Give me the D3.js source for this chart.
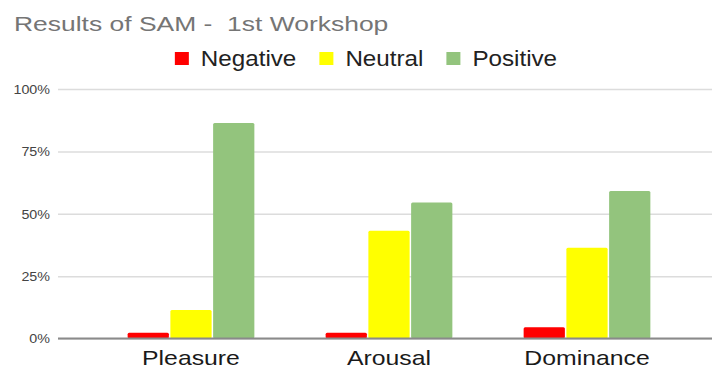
<!DOCTYPE html>
<html>
<head>
<meta charset="utf-8">
<script src="https://cdn.jsdelivr.net/npm/d3@7"></script>
<style>
  html, body { margin: 0; padding: 0; background: #fff; }
  svg { display: block; font-family: "Liberation Sans", Arial, sans-serif; }
  text { white-space: pre; }
</style>
</head>
<body>
<svg id="chart" width="712" height="369"></svg>
<script>
// SAM ratings, share of participants per category (percent)
const categories = ["Pleasure", "Arousal", "Dominance"];
const seriesNames = ["Negative", "Neutral", "Positive"];
const negative = [2.3, 2.3, 4.5];
const neutral = [11.4, 43.2, 36.4];
const positive = [86.4, 54.5, 59.1];
const yTicks = [0, 25, 50, 75, 100];
const titleText = "Results of SAM -  1st Workshop";

const colors = { Negative: "#ff0000", Neutral: "#ffff00", Positive: "#93c47d" };
const seriesValues = { Negative: negative, Neutral: neutral, Positive: positive };

const rows = categories.map((c, i) => ({
  category: c,
  values: seriesNames.map(s => ({ series: s, value: seriesValues[s][i] }))
}));

const svg = d3.select("#chart");
const gridLeft = 58, gridRight = 712;

const y = d3.scaleLinear().domain([0, 100]).range([338.5, 89]);
const x0 = d3.scaleBand().domain(categories).range([92, 686])
  .paddingInner(0.36).paddingOuter(0.18);
const x1 = d3.scaleBand().domain(seriesNames).range([0, x0.bandwidth()])
  .paddingInner(0.035).paddingOuter(0);

// horizontally stretched text helper
function stretchText(sel, sx) {
  sel.attr("transform", function () {
    const tx = +this.getAttribute("data-x"), ty = +this.getAttribute("data-y");
    return `translate(${tx},${ty}) scale(${sx},1)`;
  });
}

// title
svg.append("text")
  .attr("data-x", 14).attr("data-y", 31)
  .attr("font-size", 21).attr("fill", "#757575")
  .text(titleText)
  .call(stretchText, 1.26);

// gridlines + y labels
const yAxis = d3.axisLeft(y).tickValues(yTicks).tickFormat(d => d + "%")
  .tickSize(-(gridRight - gridLeft)).tickPadding(8);
const yg = svg.append("g").attr("transform", `translate(${gridLeft},0)`).call(yAxis);
yg.select(".domain").remove();
yg.selectAll(".tick line").attr("stroke", "#dcdcdc").attr("stroke-width", 1.5);
yg.selectAll(".tick text")
  .attr("font-size", 13).attr("fill", "#444").attr("font-family", "Liberation Sans, Arial, sans-serif")
  .attr("x", null).attr("dy", null)
  .attr("dominant-baseline", "central").attr("text-anchor", "end")
  .attr("transform", "translate(-8,0) scale(1.1,1)");

// bars
const groups = svg.append("g").selectAll("g").data(rows).join("g")
  .attr("transform", d => `translate(${x0(d.category)},0)`);
groups.selectAll("rect").data(d => d.values).join("rect")
  .attr("x", d => x1(d.series))
  .attr("width", x1.bandwidth())
  .attr("y", d => y(d.value))
  .attr("height", d => y(0) - y(d.value))
  .attr("rx", 1.5)
  .attr("fill", d => colors[d.series]);

// baseline
svg.append("line")
  .attr("x1", gridLeft).attr("x2", gridRight)
  .attr("y1", y(0)).attr("y2", y(0))
  .attr("stroke", "#8a8a8a").attr("stroke-width", 2);

// category labels
const xAxis = d3.axisBottom(x0).tickSize(0).tickPadding(0);
const xg = svg.append("g").call(xAxis);
xg.select(".domain").remove();
xg.selectAll(".tick").attr("transform", d => `translate(${x0(d) + x0.bandwidth() / 2},0)`);
xg.selectAll(".tick text")
  .attr("y", null).attr("dy", null)
  .attr("font-size", 20).attr("fill", "#1a1a1a").attr("font-family", "Liberation Sans, Arial, sans-serif")
  .attr("text-anchor", "middle")
  .attr("transform", "translate(0,365) scale(1.24,1)");

// legend
const legend = svg.append("g");
const legendScale = 1.1, sq = 14, gapSq = 12, gapItem = 23;
const items = legend.selectAll("g").data(seriesNames).join("g");
items.append("rect").attr("width", sq).attr("height", sq - 1).attr("y", 52)
  .attr("fill", d => colors[d]);
items.append("text").attr("font-size", 22).attr("fill", "#222")
  .text(d => d);
let cx = 0;
items.each(function (d) {
  const g = d3.select(this);
  const w = g.select("text").node().getComputedTextLength() * legendScale;
  g.select("rect").attr("x", cx);
  g.select("text").attr("transform", `translate(${cx + sq + gapSq},66) scale(${legendScale},1)`);
  cx += sq + gapSq + w + gapItem;
});
const legendWidth = cx - gapItem;
legend.attr("transform", `translate(${366 - legendWidth / 2},0)`);
</script>
</body>
</html>
